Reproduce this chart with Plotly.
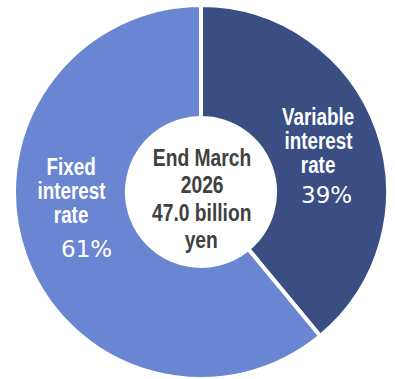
import plotly.graph_objects as go

# Borrowing mix at the end of the period
categories = ["Variable interest rate", "Fixed interest rate"]
label_lines = [["Variable", "interest", "rate"], ["Fixed", "interest", "rate"]]
shares = [39, 61]
colors = ["#3A4E84", "#6A85D1"]
center_lines = ["End March", "2026", "47.0 billion", "yen"]

W, H = 395, 379
LABEL_FONT = "Liberation Sans, Arial, sans-serif"
PCT_FONT = "DejaVu Sans, Verdana, sans-serif"
NARROW_SCALE = 0.82  # horizontal squeeze giving an Arial-Narrow look


def px(x):
    return x / W


def py(y):
    return 1 - y / H


fig = go.Figure(
    go.Pie(
        labels=categories,
        values=shares,
        sort=False,
        direction="clockwise",
        rotation=0,
        hole=0.396,
        marker=dict(colors=colors, line=dict(color="white", width=4)),
        textinfo="none",
        hoverinfo="label+percent",
        domain=dict(x=[px(14), px(388)], y=[0, py(5)]),
        showlegend=False,
    )
)

annotations = []


def add_lines(words, cx, cy0, step, size, color):
    for i, word in enumerate(words):
        annotations.append(dict(
            x=px(cx), y=py(cy0 + i * step), xref="paper", yref="paper",
            text=f"<b>{word}</b>", showarrow=False,
            xanchor="center", yanchor="middle",
            font=dict(family=LABEL_FONT, size=size, color=color),
        ))


# slice labels: (centre x of the words, centre y of first line, centre x/y of the percentage)
label_spots = [(318, 117, 326, 195), (71, 167, 86, 249)]
for lines, share, (lx, ly, sx, sy) in zip(label_lines, shares, label_spots):
    add_lines(lines, lx, ly, 24, 23, "white")
    annotations.append(dict(
        x=px(sx), y=py(sy), xref="paper", yref="paper",
        text=f"{share}%", showarrow=False,
        xanchor="center", yanchor="middle",
        font=dict(family=PCT_FONT, size=23, color="white"),
    ))

# total in the hole
add_lines(center_lines, 202, 158, 27.3, 23.5, "#404040")

fig.update_layout(
    width=W, height=H,
    margin=dict(l=0, r=0, t=0, b=0),
    paper_bgcolor="white",
    plot_bgcolor="white",
    annotations=annotations,
)

narrow_js = """
var gd = document.getElementById('{plot_id}');
function narrow() {
  gd.querySelectorAll('.annotation-text').forEach(function (t) {
    if (t.style.fontFamily.indexOf('DejaVu') < 0) {
      t.style.transformBox = 'fill-box';
      t.style.transformOrigin = 'center';
      t.style.transform = 'scaleX(%s)';
    }
  });
}
narrow();
gd.on('plotly_afterplot', narrow);
""" % NARROW_SCALE

fig.write_html("out.html", post_script=narrow_js)
